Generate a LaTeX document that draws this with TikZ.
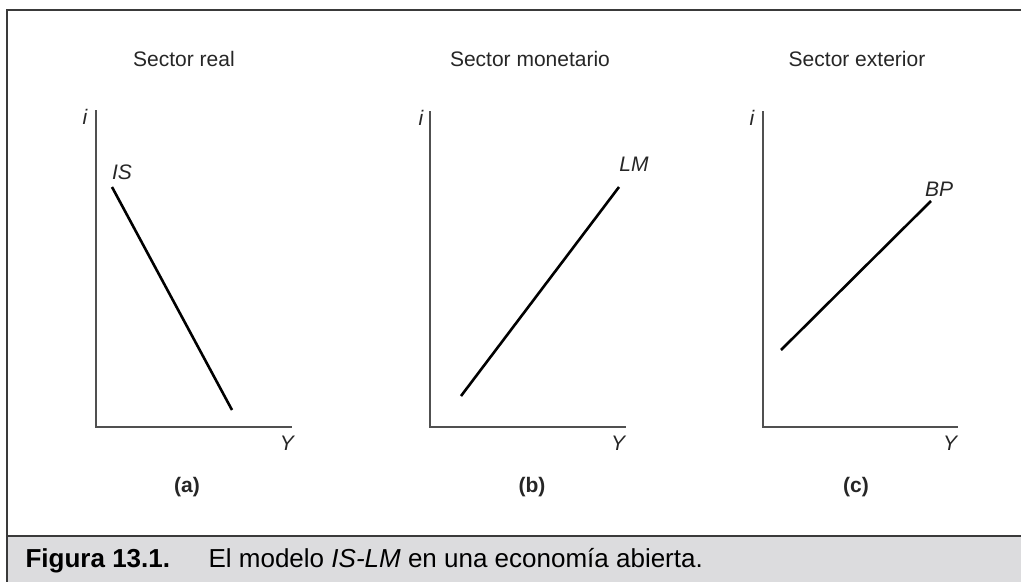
\documentclass[tikz,border=0pt]{standalone}
\usepackage{fontspec}
\setmainfont{Liberation Sans}
\usetikzlibrary{positioning}
\definecolor{cband}{HTML}{DCDCDE}
\definecolor{cframe}{HTML}{3A3A3A}
\definecolor{caxis}{HTML}{505050}
\tikzset{
  every picture/.style={line width=1.2pt},
  frame/.style={draw=cframe, line width=1.6pt},
  axis/.style={draw=caxis, line width=1.5pt},
  curve/.style={draw=black, line width=2.6pt},
  title/.style={font=\fontsize{21}{25}\selectfont, text=black!85},
  varlab/.style={font=\fontsize{21}{25}\selectfont\itshape, text=black!85, inner sep=0pt},
  panel/.style={font=\fontsize{21}{25}\selectfont\bfseries, text=black!85},
  capt/.style={font=\fontsize{26}{30}\selectfont, anchor=base west, inner sep=0pt},
}
\begin{document}
\begin{tikzpicture}[x=1pt, y=-1pt]
  \useasboundingbox (0,0) rectangle (1021,582);
  % frame and caption band
  \fill[cband] (7,537) rectangle (1021,582);
  \draw[frame] (1021,10) -- (7,10) -- (7,582);
  \draw[frame] (7,536) -- (1021,536);
  \node[capt] (fignum) at (25,567) {\textbf{Figura 13.1.}};
  \node[capt] (figtext) at (208,567) {El modelo \textit{IS-LM} en una economía abierta.};
  % (a) sector real
  \coordinate (oa) at (96,427);
  \coordinate (ta) at (96,110);
  \coordinate (ra) at (292,427);
  \draw[axis] (ta) -- (oa) -- (ra);
  \coordinate (isa) at (112,187);
  \coordinate (isb) at (232,410);
  \draw[curve] (isa) -- (isb);
  \node[varlab] (isl) at (122,172) {IS};
  \node[varlab] (ia) at (85,117) {i};
  \node[varlab] (ya) at (287,443) {Y};
  \node[title] (tia) at (184,59) {Sector real};
  \node[panel] (pa) at (187,487) {(a)};
  % (b) sector monetario
  \coordinate (ob) at (430,427);
  \coordinate (tb) at (430,111);
  \coordinate (rb) at (626,427);
  \draw[axis] (tb) -- (ob) -- (rb);
  \coordinate (lma) at (461,396);
  \coordinate (lmb) at (619,187);
  \draw[curve] (lma) -- (lmb);
  \node[varlab] (lml) at (634,164) {LM};
  \node[varlab] (ib) at (421,118) {i};
  \node[varlab] (yb) at (618,443) {Y};
  \node[title] (tib) at (530,59) {Sector monetario};
  \node[panel] (pb) at (532,487) {(b)};
  % (c) sector exterior
  \coordinate (oc) at (763,427);
  \coordinate (tc) at (763,111);
  \coordinate (rc) at (958,427);
  \draw[axis] (tc) -- (oc) -- (rc);
  \coordinate (bpa) at (781,350);
  \coordinate (bpb) at (931,201);
  \draw[curve] (bpa) -- (bpb);
  \node[varlab] (bpl) at (939,189) {BP};
  \node[varlab] (ic) at (752,118) {i};
  \node[varlab] (yc) at (950,443) {Y};
  \node[title] (tic) at (857,59) {Sector exterior};
  \node[panel] (pc) at (856,487) {(c)};
\end{tikzpicture}
\end{document}
